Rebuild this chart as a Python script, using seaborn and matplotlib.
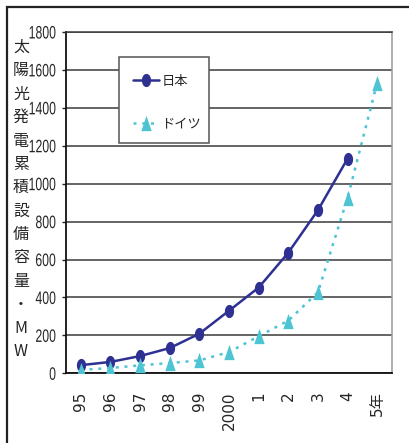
import numpy as np
import pandas as pd
import matplotlib
matplotlib.use("Agg")
import matplotlib.pyplot as plt
import matplotlib.patches as mpatches
from matplotlib.patheffects import AbstractPathEffect
from matplotlib.transforms import Affine2D
import seaborn as sns

# Cumulative installed PV capacity (MW)
years = ["95", "96", "97", "98", "99", "2000", "1", "2", "3", "4", "5年"]
japan = [43, 60, 91, 133, 209, 330, 452, 636, 860, 1132, np.nan]
germany = [18, 28, 42, 54, 68, 112, 195, 278, 427, 925, 1532]
yticks = [0, 200, 400, 600, 800, 1000, 1200, 1400, 1600, 1800]
ylabel_text = "太陽光発電累積設備容量・MW"
series_names = ["日本", "ドイツ"]

W, H = 409, 443


class Condense(AbstractPathEffect):
    """Squeeze glyphs horizontally about their right edge (narrow numerals)."""

    def __init__(self, sx):
        super().__init__()
        self.sx = sx

    def draw_path(self, renderer, gc, tpath, affine, rgbFace=None):
        r = tpath.get_extents().x1
        squeeze = Affine2D().translate(-r, 0).scale(self.sx, 1).translate(r, 0)
        renderer.draw_path(gc, tpath, squeeze + affine, rgbFace)


sns.set_theme(style="white")
plt.rcParams["font.family"] = ["DejaVu Sans", "Noto Sans CJK JP"]

navy = "#2E3192"
cyan = "#4DC4D3"
grid_c = "#3a3a3a"

pos = np.arange(len(years))
df_jp = pd.DataFrame({"pos": pos, "val": japan})
df_de = pd.DataFrame({"pos": pos, "val": germany})

fig = plt.figure(figsize=(W / 100, H / 100), dpi=100)
ax = fig.add_axes([66 / W, 1 - 373.3 / H, (392 - 66) / W, (373.3 - 32) / H])

# tall ellipse / narrow triangle markers
t = np.linspace(0, 2 * np.pi, 40)
ellipse = list(zip(0.7 * np.cos(t), np.sin(t)))
tri = [(0, 1), (-0.68, -1), (0.68, -1), (0, 1)]

sns.lineplot(data=df_jp.dropna(), x="pos", y="val", ax=ax, color=navy, lw=1.8,
             marker=ellipse, markersize=9.5, markeredgewidth=0,
             markerfacecolor=navy, label=series_names[0], zorder=3)
sns.lineplot(data=df_de, x="pos", y="val", ax=ax, color=cyan, lw=1.8,
             dashes=False, marker=tri, markersize=11, markeredgewidth=0,
             markerfacecolor=cyan, label=series_names[1], zorder=4)
ax.lines[1].set_dashes((1.2, 2.3))

ax.set_xlim(-0.5, len(years) - 0.5)
ax.set_ylim(0, 1800)
ax.set_yticks(yticks)
ax.set_yticklabels([str(v) for v in yticks], fontfamily="Liberation Sans", fontsize=13)
for lab in ax.get_yticklabels():
    lab.set_path_effects([Condense(0.68)])
ax.set_xticks(pos)
ax.set_xticklabels(years, rotation=90, fontsize=11)
ax.set_xticks(np.arange(-0.5, len(years)), minor=True)
ax.tick_params(axis="x", which="major", length=0, pad=13)
ax.tick_params(axis="x", which="minor", direction="in", length=5, width=1, color="#222")
ax.tick_params(axis="y", which="major", length=3, width=1, pad=4, color="#222", left=True)
ax.set_xlabel("")
ax.set_ylabel("")

ax.yaxis.grid(True, color=grid_c, lw=1.1)
ax.set_axisbelow(True)
ax.spines["left"].set_color("#111")
ax.spines["left"].set_linewidth(1.3)
ax.spines["bottom"].set_color("#111")
ax.spines["bottom"].set_linewidth(1.3)
ax.spines["top"].set_color(grid_c)
ax.spines["top"].set_linewidth(1.1)
ax.spines["right"].set_color("#9a9a9a")
ax.spines["right"].set_linewidth(1.1)

# legend box drawn as its own panel, entries placed inside it
box = mpatches.Rectangle((119 / W, 1 - 143 / H), 90 / W, 86 / H,
                         transform=fig.transFigure, facecolor="white",
                         edgecolor="#555", lw=1.1, zorder=4.5, clip_on=False)
ax.add_patch(box)
leg = ax.legend(loc="upper left", bbox_to_anchor=(133 / W, 1 - 74.5 / H),
                bbox_transform=fig.transFigure, borderaxespad=0, frameon=False,
                prop={"family": ["Noto Sans CJK JP"], "size": 9.5},
                handlelength=1.95, labelspacing=2.25, borderpad=0,
                handletextpad=0.2)
leg.set_zorder(6)

fig.text(21 / W, 1 - 199.5 / H, "\n".join(ylabel_text), ha="center", va="center",
         fontfamily=["Noto Sans CJK JP"], fontsize=11.5, linespacing=1.49)

# outer frame of the figure
fig.patches.append(mpatches.Rectangle((7 / W, -0.5), 2, 0.5 + 1 - 7 / H,
                                      transform=fig.transFigure, fill=False,
                                      edgecolor="#222", lw=1.6))

fig.savefig("out.png", dpi=100)
